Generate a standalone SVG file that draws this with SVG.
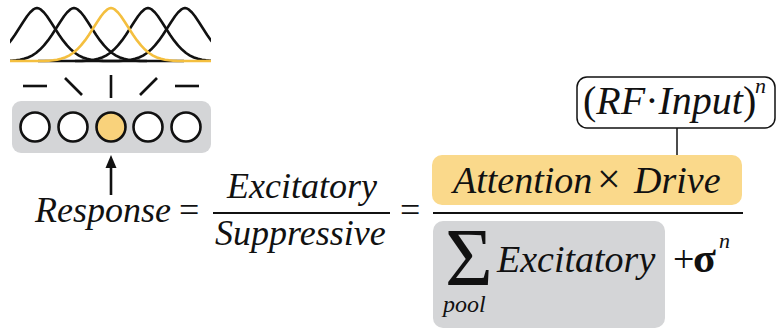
<svg xmlns="http://www.w3.org/2000/svg" width="779" height="331" viewBox="0 0 779 331">
<defs>
<path id="g" fill="none" d="M-110,61 L-66,60.9 L-62,60.7 L-58,60.3 L-54,59.7 L-50,58.8 L-46,57.5 L-42,55.6 L-38,53 L-34,49.6 L-30,45.4 L-26,40.4 L-22,34.7 L-18,28.5 L-14,22.2 L-10,16.3 L-7,12.5 L-4,9.7 L-2,8.5 L0,8 L2,8.5 L4,9.7 L7,12.5 L10,16.3 L14,22.2 L18,28.5 L22,34.7 L26,40.4 L30,45.4 L34,49.6 L38,53 L42,55.6 L46,57.5 L50,58.8 L54,59.7 L58,60.3 L62,60.7 L66,60.9 L110,61"/>
<clipPath id="cp"><rect x="10" y="0" width="201" height="75"/></clipPath>
</defs>
<g id="tuning-curves" clip-path="url(#cp)" fill="none" stroke-width="2.6" stroke-linejoin="round">
<use href="#g" x="37" stroke="#111"/>
<use href="#g" x="74" stroke="#111"/>
<use href="#g" x="148" stroke="#111"/>
<use href="#g" x="185" stroke="#111"/>
<use href="#g" x="111" stroke="#F4BF3F"/>
</g>
<g id="orientation-ticks" stroke="#111" stroke-width="2.6">
<line x1="23" y1="86" x2="47" y2="86"/>
<line x1="65" y1="78" x2="82" y2="95"/>
<line x1="111" y1="75" x2="111" y2="98"/>
<line x1="140" y1="95" x2="157" y2="78"/>
<line x1="175" y1="86" x2="199" y2="86"/>
</g>
<g id="neuron-pool">
<rect x="12" y="101" width="199" height="52" rx="9" fill="#D4D5D7"/>
<g stroke="#111" stroke-width="2.6">
<circle cx="35" cy="127" r="14.5" fill="#fff"/>
<circle cx="73" cy="127" r="14.5" fill="#fff"/>
<circle cx="111" cy="127" r="14.5" fill="#F9D27B"/>
<circle cx="148" cy="127" r="14.5" fill="#fff"/>
<circle cx="186" cy="127" r="14.5" fill="#fff"/>
</g>
</g>
<g id="connectors">
<line x1="111" y1="195" x2="111" y2="165" stroke="#111" stroke-width="2.6"/>
<polygon points="111,155 105.5,168 116.5,168" fill="#111"/>
<line x1="677" y1="128" x2="677" y2="155" stroke="#111" stroke-width="1.5"/>
</g>
<g id="response-eq">
<text x="35" y="222" font-family="Liberation Serif" font-size="36" font-style="italic" fill="#111" style="font-family:'Liberation Serif',serif !important;font-style:italic !important">Response</text>
<text x="179" y="222" font-family="Liberation Serif" font-size="36" fill="#111" style="font-family:'Liberation Serif',serif !important">=</text>
<text x="227" y="198" font-family="Liberation Serif" font-size="36" font-style="italic" fill="#111" style="font-family:'Liberation Serif',serif !important;font-style:italic !important">Excitatory</text>
<line x1="213" y1="213" x2="390" y2="213" stroke="#111" stroke-width="2"/>
<text x="215" y="245" font-family="Liberation Serif" font-size="36" font-style="italic" fill="#111" style="font-family:'Liberation Serif',serif !important;font-style:italic !important">Suppressive</text>
<text x="400" y="222" font-family="Liberation Serif" font-size="36" fill="#111" style="font-family:'Liberation Serif',serif !important">=</text>
</g>
<g id="rf-input">
<rect x="577" y="77" width="198" height="51" rx="10" fill="#fff" stroke="#111" stroke-width="1.5"/>
<text x="583" y="114" font-family="Liberation Serif" font-size="40" fill="#111" style="font-family:'Liberation Serif',serif !important">(<tspan font-style="italic" style="font-family:'Liberation Serif',serif !important;font-style:italic !important">RF</tspan>&#xB7;<tspan font-style="italic" style="font-family:'Liberation Serif',serif !important;font-style:italic !important">Input</tspan>)</text>
<text x="755" y="93" font-family="Liberation Serif" font-size="22" font-style="italic" fill="#111" style="font-family:'Liberation Serif',serif !important;font-style:italic !important">n</text>
</g>
<g id="attention-drive">
<rect x="432" y="155" width="310" height="50" rx="10" fill="#FAD98B"/>
<text x="453" y="193" font-family="Liberation Serif" font-size="38" font-style="italic" fill="#111" style="font-family:'Liberation Serif',serif !important;font-style:italic !important">Attention</text>
<text x="597" y="193" font-family="Liberation Serif" font-size="42" fill="#111" style="font-family:'Liberation Serif',serif !important">&#xD7;</text>
<text x="634" y="193" font-family="Liberation Serif" font-size="38" font-style="italic" fill="#111" style="font-family:'Liberation Serif',serif !important;font-style:italic !important">Drive</text>
</g>
<line x1="433" y1="213" x2="743" y2="213" stroke="#111" stroke-width="2"/>
<g id="suppressive-pool">
<rect x="433" y="221" width="232" height="107" rx="10" fill="#D4D5D7"/>
<text x="445" y="285" font-family="Liberation Serif" font-size="82" fill="#111" style="font-family:'Liberation Serif',serif !important">&#x3A3;</text>
<text x="443" y="312" font-family="Liberation Serif" font-size="24" font-style="italic" fill="#111" style="font-family:'Liberation Serif',serif !important;font-style:italic !important">pool</text>
<text x="497" y="272" font-family="Liberation Serif" font-size="38" font-style="italic" fill="#111" style="font-family:'Liberation Serif',serif !important;font-style:italic !important">Excitatory</text>
</g>
<g id="sigma">
<text x="673" y="272" font-family="Liberation Serif" font-size="38" fill="#111" style="font-family:'Liberation Serif',serif !important">+</text>
<text x="693" y="272" font-family="Liberation Serif" font-size="42" font-weight="bold" fill="#111" style="font-family:'Liberation Serif',serif !important;font-weight:bold">&#x3C3;</text>
<text x="719" y="248" font-family="Liberation Serif" font-size="22" font-style="italic" fill="#111" style="font-family:'Liberation Serif',serif !important;font-style:italic !important">n</text>
</g>
</svg>
